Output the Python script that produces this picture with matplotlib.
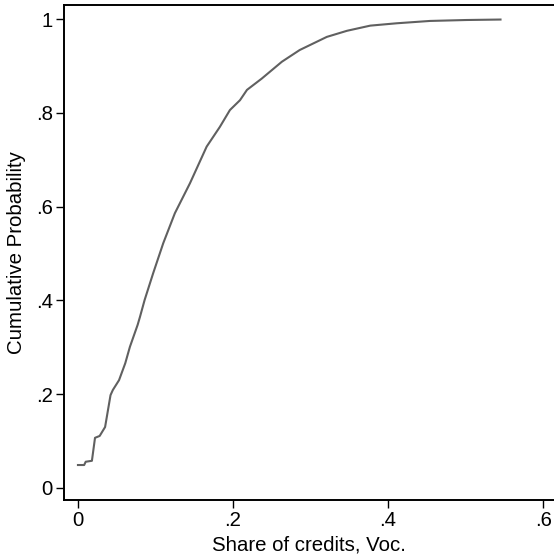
import matplotlib
matplotlib.use("Agg")
import matplotlib.pyplot as plt

share = [0.0, 0.008, 0.010, 0.018, 0.022, 0.028, 0.035, 0.042, 0.045, 0.053, 0.061,
         0.067, 0.077, 0.080, 0.086, 0.097, 0.110, 0.125, 0.1445, 0.166, 0.183,
         0.196, 0.209, 0.218, 0.237, 0.263, 0.286, 0.321, 0.347, 0.377, 0.411,
         0.454, 0.501, 0.545]
cumprob = [0.049, 0.049, 0.056, 0.058, 0.107, 0.111, 0.130, 0.198, 0.209, 0.230, 0.266,
           0.301, 0.348, 0.365, 0.401, 0.458, 0.522, 0.586, 0.650, 0.728, 0.770,
           0.806, 0.827, 0.849, 0.873, 0.909, 0.934, 0.962, 0.975, 0.986, 0.991,
           0.996, 0.998, 0.999]

xticks = [0, 0.2, 0.4, 0.6]
xticklabels = ["0", ".2", ".4", ".6"]
yticks = [0, 0.2, 0.4, 0.6, 0.8, 1.0]
yticklabels = ["0", ".2", ".4", ".6", ".8", "1"]

plt.rcParams['font.family'] = ['Liberation Sans', 'DejaVu Sans']

fig = plt.figure(figsize=(5.54, 5.57), dpi=100)
ax = fig.add_axes([64/554, 1-500/557, 1-64/554, (500-5)/557])
ax.plot(share, cumprob, color='#606060', lw=1.5)

ax.set_xlim(-0.018, 0.614)
ax.set_ylim(-0.0256, 1.03)
ax.set_xticks(xticks)
ax.set_xticklabels(xticklabels)
ax.set_yticks(yticks)
ax.set_yticklabels(yticklabels)
ax.tick_params(axis='both', labelsize=14.7, length=5.5, width=1, color='black', direction='out', pad=2.5)
for s in ['left', 'bottom', 'top']:
    ax.spines[s].set_linewidth(1.4)
ax.spines['right'].set_visible(False)
ax.set_xlabel("Share of credits, Voc.", fontsize=14.7, labelpad=4)
ax.set_ylabel("Cumulative Probability", fontsize=14.7, labelpad=7)

fig.savefig("out.png", dpi=100)
